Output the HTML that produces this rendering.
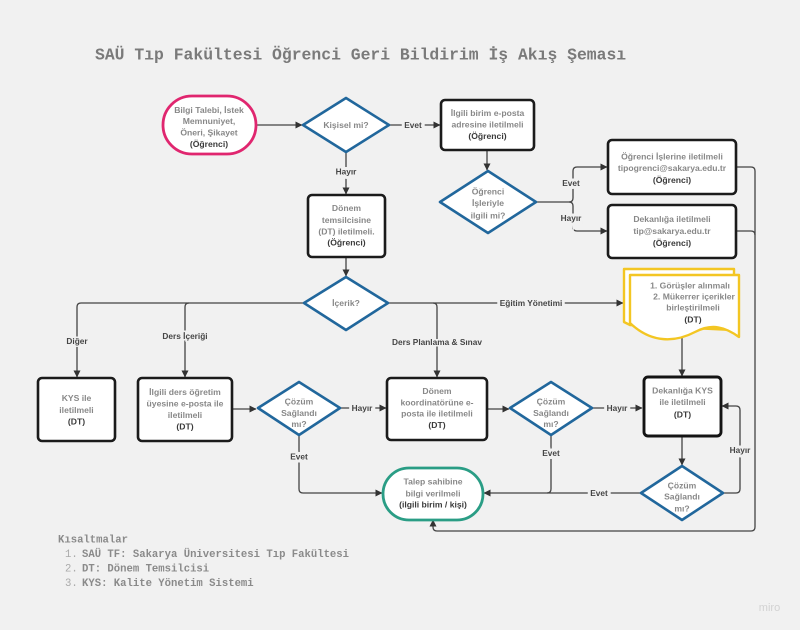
<!DOCTYPE html>
<html>
<head>
<meta charset="utf-8">
<style>
html,body{margin:0;padding:0;background:#f1f1f1;}
svg{display:block;}
.t{font-family:"Liberation Sans",Arial,sans-serif;font-weight:bold;font-size:8.6px;fill:#888;text-anchor:middle;}
.d{fill:#3a3a3a;}
.lb{font-family:"Liberation Sans",Arial,sans-serif;font-weight:bold;font-size:8.3px;fill:#454545;text-anchor:middle;stroke:#f1f1f1;stroke-width:3;paint-order:stroke;}
.c{fill:none;stroke:#444;stroke-width:1.3;}
.box{fill:#fff;stroke:#1b1b1b;stroke-width:2.6;}
.dia{fill:#fff;stroke:#21679c;stroke-width:2.6;stroke-linejoin:round;}
.mono{font-family:"Liberation Mono","DejaVu Sans Mono",monospace;font-weight:bold;}
</style>
</head>
<body>
<svg width="800" height="630" viewBox="0 0 800 630" xmlns="http://www.w3.org/2000/svg">
<defs>
<marker id="a" markerWidth="7" markerHeight="7" refX="6.5" refY="3.5" orient="auto" markerUnits="userSpaceOnUse">
<path d="M0,0 L7,3.5 L0,7 z" fill="#333"/>
</marker>
</defs>
<rect width="800" height="630" fill="#f1f1f1"/>

<!-- Title -->
<text x="95" y="59.5" class="mono" font-size="16.4" fill="#7a7a7a">SAÜ Tıp Fakültesi Öğrenci Geri Bildirim İş Akış Şeması</text>

<!-- Connectors -->
<path class="c" d="M256,125 H302" marker-end="url(#a)"/>
<path class="c" d="M389,125 H440" marker-end="url(#a)"/>
<path class="c" d="M487,150 V170" marker-end="url(#a)"/>
<path class="c" d="M536,202 H569 Q573,202 573,198 V171 Q573,167 577,167 H607" marker-end="url(#a)"/>
<path class="c" d="M569,202 Q573,202 573,206 V227 Q573,231 577,231 H607" marker-end="url(#a)"/>
<path class="c" d="M736,167 H751 Q755,167 755,171 V527 Q755,531 751,531 H437 Q433,531 433,527 V520" marker-end="url(#a)"/>
<path class="c" d="M736,231 H751 Q755,231 755,235"/>
<path class="c" d="M346,152 V194" marker-end="url(#a)"/>
<path class="c" d="M346,257 V276" marker-end="url(#a)"/>
<path class="c" d="M303,303 H81 Q77,303 77,307 V377" marker-end="url(#a)"/>
<path class="c" d="M189,303 Q185,303 185,307 V377" marker-end="url(#a)"/>
<path class="c" d="M388,303 H623" marker-end="url(#a)"/>
<path class="c" d="M433,303 Q437,303 437,307 V377" marker-end="url(#a)"/>
<path class="c" d="M232,409 H256" marker-end="url(#a)"/>
<path class="c" d="M340,408 H386" marker-end="url(#a)"/>
<path class="c" d="M487,409 H509" marker-end="url(#a)"/>
<path class="c" d="M593,408 H642" marker-end="url(#a)"/>
<path class="c" d="M682,333 V376" marker-end="url(#a)"/>
<path class="c" d="M682,436 V465" marker-end="url(#a)"/>
<path class="c" d="M723,493 H736 Q740,493 740,489 V410 Q740,406 736,406 H722" marker-end="url(#a)"/>
<path class="c" d="M641,493 H484" marker-end="url(#a)"/>
<path class="c" d="M551,435 V489 Q551,493 547,493"/>
<path class="c" d="M299,435 V489 Q299,493 303,493 H382" marker-end="url(#a)"/>

<!-- Start terminal -->
<rect x="163" y="96" width="93" height="58" rx="29" fill="#fff" stroke="#e0266f" stroke-width="2.8"/>
<text class="t"><tspan x="209" y="113">Bilgi Talebi, İstek</tspan><tspan x="209" y="124">Memnuniyet,</tspan><tspan x="209" y="135.5">Öneri, Şikayet</tspan><tspan x="209" y="147" class="d">(Öğrenci)</tspan></text>

<!-- Kişisel mi -->
<path class="dia" d="M346,98 L389,125 L346,152 L303,125 Z"/>
<text class="t" x="346" y="128">Kişisel mi?</text>

<!-- İlgili birim -->
<rect class="box" x="441" y="100" width="93" height="50" rx="4"/>
<text class="t"><tspan x="487.5" y="116">İlgili birim e-posta</tspan><tspan x="487.5" y="127.5">adresine iletilmeli</tspan><tspan x="487.5" y="139" class="d">(Öğrenci)</tspan></text>

<!-- Öğrenci işleriyle diamond -->
<path class="dia" d="M488,171 L536,202 L488,233 L440,202 Z"/>
<text class="t"><tspan x="488" y="194.5">Öğrenci</tspan><tspan x="488" y="206">İşleriyle</tspan><tspan x="488" y="218.5">ilgili mi?</tspan></text>

<!-- Öğrenci İşleri box -->
<rect class="box" x="608" y="140" width="128" height="54" rx="4"/>
<text class="t"><tspan x="672" y="159.5">Öğrenci İşlerine iletilmeli</tspan><tspan x="672" y="171">tipogrenci@sakarya.edu.tr</tspan><tspan x="672" y="183" class="d">(Öğrenci)</tspan></text>

<!-- Dekanlığa box -->
<rect class="box" x="608" y="205" width="128" height="53" rx="4"/>
<text class="t"><tspan x="672" y="222">Dekanlığa iletilmeli</tspan><tspan x="672" y="234">tip@sakarya.edu.tr</tspan><tspan x="672" y="246" class="d">(Öğrenci)</tspan></text>

<!-- Dönem temsilcisine -->
<rect class="box" x="308" y="195" width="77" height="62" rx="4"/>
<text class="t"><tspan x="346.5" y="211">Dönem</tspan><tspan x="346.5" y="223">temsilcisine</tspan><tspan x="346.5" y="234.5">(DT) iletilmeli.</tspan><tspan x="346.5" y="245.5" class="d">(Öğrenci)</tspan></text>

<!-- İçerik -->
<path class="dia" d="M346,277 L388,303 L346,330 L304,303 Z"/>
<text class="t" x="346" y="306">İçerik?</text>

<!-- KYS ile -->
<rect class="box" x="38" y="378" width="77" height="63" rx="4"/>
<text class="t"><tspan x="76.5" y="401">KYS ile</tspan><tspan x="76.5" y="413">iletilmeli</tspan><tspan x="76.5" y="424.5" class="d">(DT)</tspan></text>

<!-- İlgili ders -->
<rect class="box" x="138" y="378" width="94" height="63" rx="4"/>
<text class="t"><tspan x="185" y="395">İlgili ders öğretim</tspan><tspan x="185" y="406.5">üyesine e-posta ile</tspan><tspan x="185" y="418">iletilmeli</tspan><tspan x="185" y="429.5" class="d">(DT)</tspan></text>

<!-- Çözüm 1 -->
<path class="dia" d="M299,382 L340,408 L299,435 L258,408 Z"/>
<text class="t"><tspan x="299" y="404.5">Çözüm</tspan><tspan x="299" y="416">Sağlandı</tspan><tspan x="299" y="427">mı?</tspan></text>

<!-- Dönem koordinatörüne -->
<rect class="box" x="387" y="378" width="100" height="62" rx="4"/>
<text class="t"><tspan x="437" y="394">Dönem</tspan><tspan x="437" y="405.5">koordinatörüne e-</tspan><tspan x="437" y="416.5">posta ile iletilmeli</tspan><tspan x="437" y="428" class="d">(DT)</tspan></text>

<!-- Çözüm 2 -->
<path class="dia" d="M551,382 L592,408 L551,435 L510,408 Z"/>
<text class="t"><tspan x="551" y="404.5">Çözüm</tspan><tspan x="551" y="416">Sağlandı</tspan><tspan x="551" y="427">mı?</tspan></text>

<!-- Document (yellow) -->
<path d="M624,269 H734 V330 L630,325 L624,322 Z" fill="#fff" stroke="#f3c623" stroke-width="2.4" stroke-linejoin="round"/>
<path d="M630,275 H739 V337 C725,327 712,323 695,332 C676,342 652,344 630,323 Z" fill="#fff" stroke="#f3c623" stroke-width="2.4" stroke-linejoin="round"/>
<text class="t"><tspan x="690" y="288.3">1. Görüşler alınmalı</tspan><tspan x="694" y="299.3">2. Mükerrer içerikler</tspan><tspan x="693" y="310.7">birleştirilmeli</tspan><tspan x="693" y="322.3" class="d">(DT)</tspan></text>

<!-- Dekanlığa KYS -->
<rect x="644" y="377" width="77" height="59" rx="4" fill="#fff" stroke="#141414" stroke-width="2.9"/>
<text class="t"><tspan x="682.5" y="393.3">Dekanlığa KYS</tspan><tspan x="682.5" y="405">ile iletilmeli</tspan><tspan x="682.5" y="417.3" class="d">(DT)</tspan></text>

<!-- Çözüm 3 -->
<path class="dia" d="M682,466 L723,493 L682,520 L641,493 Z"/>
<text class="t"><tspan x="682" y="488.7">Çözüm</tspan><tspan x="682" y="499.7">Sağlandı</tspan><tspan x="682" y="511.3">mı?</tspan></text>

<!-- Teal terminal -->
<rect x="383" y="468" width="100" height="52" rx="26" fill="#fff" stroke="#2a9d85" stroke-width="2.8"/>
<text class="t"><tspan x="433" y="484.7">Talep sahibine</tspan><tspan x="433" y="496.3">bilgi verilmeli</tspan><tspan x="433" y="507.3" class="d">(ilgili birim / kişi)</tspan></text>

<!-- Connector labels -->
<text class="lb" x="413" y="128" style="stroke-width:6">Evet</text>
<text class="lb" x="571" y="186" style="stroke-width:6">Evet</text>
<text class="lb" x="571" y="221" style="stroke-width:6">Hayır</text>
<text class="lb" x="346" y="174.5" style="stroke-width:6">Hayır</text>
<text class="lb" x="77" y="344">Diğer</text>
<text class="lb" x="185" y="339">Ders İçeriği</text>
<text class="lb" x="531" y="306" style="stroke-width:6">Eğitim Yönetimi</text>
<text class="lb" x="437" y="345">Ders Planlama &amp; Sınav</text>
<text class="lb" x="362" y="411" style="stroke-width:6">Hayır</text>
<text class="lb" x="617" y="411" style="stroke-width:6">Hayır</text>
<text class="lb" x="740" y="453" style="stroke-width:6">Hayır</text>
<text class="lb" x="599" y="496" style="stroke-width:6">Evet</text>
<text class="lb" x="551" y="456" style="stroke-width:6">Evet</text>
<text class="lb" x="299" y="459.5" style="stroke-width:6">Evet</text>

<!-- Legend -->
<text x="58" y="542.5" class="mono" font-size="10.6" fill="#8a8a8a">Kısaltmalar</text>
<text x="65" y="557" font-family="Liberation Mono, monospace" font-size="10.6" fill="#aaa">1.</text>
<text x="82" y="557" class="mono" font-size="10.6" fill="#8a8a8a">SAÜ TF: Sakarya Üniversitesi Tıp Fakültesi</text>
<text x="65" y="571.5" font-family="Liberation Mono, monospace" font-size="10.6" fill="#aaa">2.</text>
<text x="82" y="571.5" class="mono" font-size="10.6" fill="#8a8a8a">DT: Dönem Temsilcisi</text>
<text x="65" y="586" font-family="Liberation Mono, monospace" font-size="10.6" fill="#aaa">3.</text>
<text x="82" y="586" class="mono" font-size="10.6" fill="#8a8a8a">KYS: Kalite Yönetim Sistemi</text>

<!-- miro watermark -->
<text x="769.5" y="611" font-family="Liberation Sans, sans-serif" font-size="11" fill="#d2d2d2" text-anchor="middle">miro</text>
</svg>
</body>
</html>
